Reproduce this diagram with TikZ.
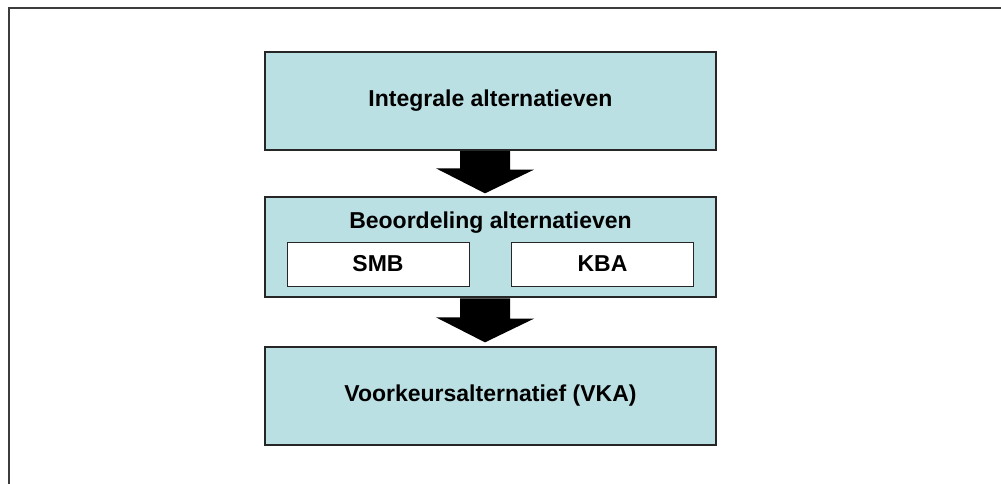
\documentclass[tikz,border=0pt]{standalone}
\usepackage{fontspec}
\setmainfont{Liberation Sans}
\definecolor{boxblue}{RGB}{187,224,227}
\definecolor{framegray}{RGB}{60,60,60}
\begin{document}
\begin{tikzpicture}[x=1pt,y=-1pt,
  bluebox/.style={draw=black!85,line width=1.3pt,fill=boxblue,rectangle,inner sep=0pt,
     minimum width=451pt},
  whitebox/.style={draw=black!85,line width=1pt,fill=white,rectangle,inner sep=0pt,
     minimum width=182pt,minimum height=44pt},
  lbl/.style={font=\bfseries\fontsize{23}{27}\selectfont,text=black},
  blockarrow/.style={fill=black,draw=none}]
\useasboundingbox (0,0) rectangle (1001,484);
\draw[framegray,line width=1.8pt] (9,490) -- (9,8) -- (1010,8);
% boxes
\node[bluebox,lbl,minimum height=98pt] (top) at (490.5,101) {Integrale alternatieven};
\node[bluebox,minimum height=100pt] (mid) at (490.5,247) {};
\node[lbl] (midlbl) at (490.5,223) {Beoordeling alternatieven};
\node[whitebox,lbl] (smb) at (378,264) {SMB};
\node[whitebox,lbl] (kba) at (602.5,264) {KBA};
\node[bluebox,lbl,minimum height=98pt] (vka) at (490.5,396) {Voorkeursalternatief (VKA)};
% block arrows
\fill[blockarrow] ([xshift=-30.5pt,yshift=-0.6pt]top.south) -- ++(50,0) -- ++(0,18.4) -- ++(24,0)
  -- ([xshift=-5.5pt,yshift=3pt]mid.north) -- ++(-49,-25) -- ++(24,0) -- cycle;
\fill[blockarrow] ([xshift=-30.5pt,yshift=-0.6pt]mid.south) -- ++(50,0) -- ++(0,20.4) -- ++(24,0)
  -- ([xshift=-5.5pt,yshift=4pt]vka.north) -- ++(-49,-25) -- ++(24,0) -- cycle;
\end{tikzpicture}
\end{document}
